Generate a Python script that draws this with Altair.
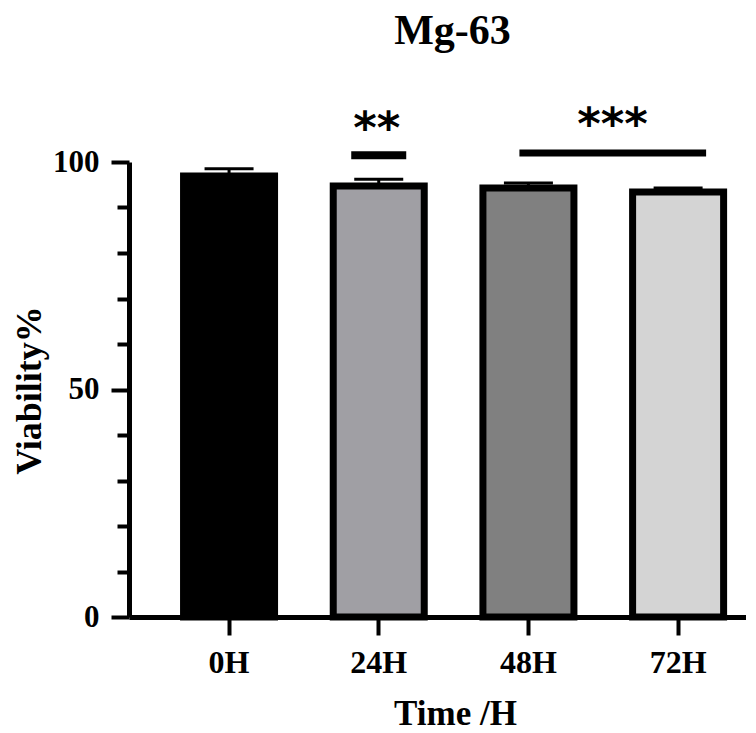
import altair as alt
import pandas as pd

groups = ["0H", "24H", "48H", "72H"]
viability = [96.9, 94.7, 94.3, 93.4]
sd = [1.6, 1.5, 1.1, 0.9]
bar_colors = ["#000000", "#a09fa4", "#808080", "#d4d4d4"]

sig_pair_a = ["24H"]
sig_pair_b = ["48H", "72H"]
sig_line_y = [101.5, 102.0]
sig_star_y = [104.2, 105.1]
sig_labels = ["**", "***"]

SERIF = "Liberation Serif"

df = pd.DataFrame({"group": groups, "v": viability, "sd": sd})
df["top"] = df["v"] + df["sd"]

x_scale = alt.Scale(domain=groups, paddingInner=0.392, paddingOuter=0.257, align=0.709)
y_scale = alt.Scale(domain=[0, 100], nice=False, zero=True)

x_axis = alt.Axis(
    title="Time /H", labelAngle=0, tickSize=18, tickWidth=4, domainWidth=5,
    domainColor="black", tickColor="black", labelColor="black",
    labelFont=SERIF, labelFontWeight="bold", labelFontSize=32, labelPadding=12,
    titleFont=SERIF, titleFontWeight="bold", titleFontSize=35, titleColor="black",
    titleX=326, titleY=107, titleBaseline="alphabetic", titleAlign="center",
    grid=False, zindex=1,
)
y_axis = alt.Axis(
    title="Viability%", values=list(range(0, 101, 5)),
    labelExpr="datum.value % 50 === 0 ? datum.label : ''",
    tickSize={"condition": {"test": "datum.value % 50 === 0", "value": 18}, "value": 12},
    tickWidth=4, domainWidth=5, domainColor="black", tickColor="black", labelColor="black",
    labelFont=SERIF, labelFontWeight="bold", labelFontSize=31, labelPadding=12,
    labelFlush=False, labelOverlap=False,
    titleFont=SERIF, titleFontWeight="bold", titleFontSize=36, titleColor="black",
    titleX=-89, titleY=228, titleAngle=270, titleBaseline="alphabetic", titleAlign="center",
    grid=False, zindex=1,
)

base = alt.Chart(df)

bars = base.mark_bar(stroke="black", strokeWidth=7).encode(
    x=alt.X("group:N", scale=x_scale, sort=groups, axis=x_axis),
    y=alt.Y("v:Q", scale=y_scale, axis=y_axis),
    fill=alt.Fill("group:N", scale=alt.Scale(domain=groups, range=bar_colors), legend=None),
)
stems = base.mark_rule(color="black", strokeWidth=3).encode(
    x=alt.X("group:N", scale=x_scale, sort=groups), y="v:Q", y2="top:Q"
)
caps = base.mark_tick(color="black", thickness=3, size=49, opacity=1).encode(
    x=alt.X("group:N", scale=x_scale, sort=groups), y="top:Q"
)

sig_a = pd.DataFrame({"g": sig_pair_a, "y": [sig_line_y[0]], "ys": [sig_star_y[0]], "lab": [sig_labels[0]]})
sig_b = pd.DataFrame({"g1": [sig_pair_b[0]], "g2": [sig_pair_b[1]], "y": [sig_line_y[1]],
                      "ys": [sig_star_y[1]], "lab": [sig_labels[1]]})

line_a = alt.Chart(sig_a).mark_tick(color="black", thickness=8, size=55, opacity=1).encode(
    x=alt.X("g:N", scale=x_scale, sort=groups), y="y:Q"
)
line_b = alt.Chart(sig_b).mark_rule(color="black", strokeWidth=7, xOffset=-9, x2Offset=28).encode(
    x=alt.X("g1:N", scale=x_scale, sort=groups), x2="g2:N", y="y:Q"
)
star_a = alt.Chart(sig_a).mark_text(font="DejaVu Sans", fontWeight="bold", fontSize=45,
                                    baseline="alphabetic", align="center", dx=-2, color="black").encode(
    x=alt.X("g:N", scale=x_scale, sort=groups), y="ys:Q", text="lab:N"
)
star_b = alt.Chart(sig_b).mark_text(font="DejaVu Sans", fontWeight="bold", fontSize=45,
                                    baseline="alphabetic", align="center", dx=84, color="black").encode(
    x=alt.X("g1:N", scale=x_scale, sort=groups), y="ys:Q", text="lab:N"
)

chart = alt.layer(bars, stems, caps, line_a, line_b, star_a, star_b).properties(
    width=617, height=455,
    background="white",
    autosize=alt.AutoSizeParams(type="none"),
    padding={"left": 121, "top": 154, "right": 0, "bottom": 116},
    title=alt.TitleParams(text="Mg-63", font=SERIF, fontWeight="bold", fontSize=42,
                          color="black", anchor="middle", frame="group", dx=15, offset=50),
).configure_view(strokeWidth=0).configure_axis(grid=False)

chart.save("out.html", embed_options={"renderer": "svg", "actions": False})
